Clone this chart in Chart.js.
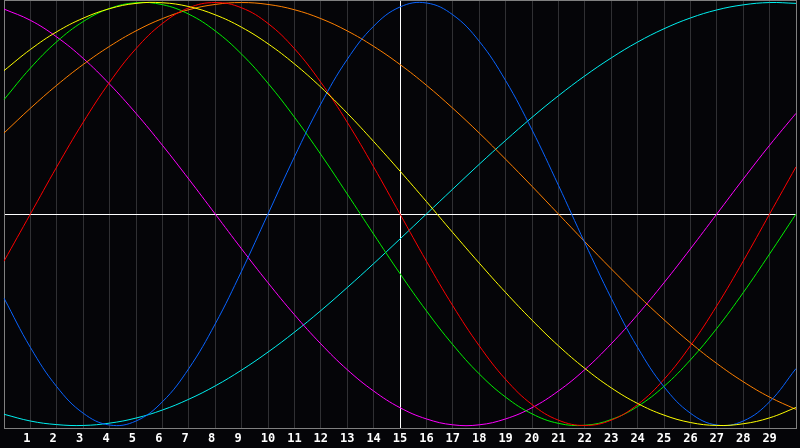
<!DOCTYPE html>
<html>
<head>
<meta charset="utf-8">
<title>Biorhythm</title>
<script src="https://cdn.jsdelivr.net/npm/chart.js@4/dist/chart.umd.min.js"></script>
<style>
  html, body { margin: 0; padding: 0; background: #050508; }
  #chart { display: block; }
</style>
</head>
<body>
<canvas id="chart" width="800" height="448"></canvas>
<script>
// days along the bottom (0 and 30 are the frame edges, no label)
const days = [0, 1, 2, 3, 4, 5, 6, 7, 8, 9, 10, 11, 12, 13, 14, 15, 16, 17, 18, 19, 20, 21, 22, 23, 24, 25, 26, 27, 28, 29, 30];
const todayIndex = 15;

// values, -1 .. 1
const physical     = [-0.398, -0.631, -0.817, -0.942, -0.998, -0.979, -0.888, -0.731, -0.520, -0.270, 0.000, 0.270, 0.520, 0.731, 0.888, 0.979, 0.998, 0.942, 0.817, 0.631, 0.398, 0.136, -0.136, -0.398, -0.631, -0.817, -0.942, -0.998, -0.979, -0.888, -0.731];
const emotional    = [-0.223, 0.000, 0.223, 0.434, 0.623, 0.782, 0.901, 0.975, 1.000, 0.975, 0.901, 0.782, 0.623, 0.434, 0.223, 0.000, -0.223, -0.434, -0.623, -0.782, -0.901, -0.975, -1.000, -0.975, -0.901, -0.782, -0.623, -0.434, -0.223, 0.000, 0.223];
const intellectual = [0.541, 0.690, 0.815, 0.910, 0.972, 0.999, 0.990, 0.945, 0.866, 0.756, 0.618, 0.458, 0.282, 0.095, -0.095, -0.282, -0.458, -0.618, -0.756, -0.866, -0.945, -0.990, -0.999, -0.972, -0.910, -0.815, -0.690, -0.541, -0.372, -0.189, 0.000];
const intuitive    = [0.969, 0.916, 0.837, 0.736, 0.614, 0.476, 0.325, 0.165, 0.000, -0.165, -0.325, -0.476, -0.614, -0.736, -0.837, -0.916, -0.969, -0.997, -0.997, -0.969, -0.916, -0.837, -0.736, -0.614, -0.476, -0.325, -0.165, 0.000, 0.165, 0.325, 0.476];
const aesthetic    = [0.678, 0.778, 0.862, 0.926, 0.971, 0.996, 0.999, 0.981, 0.942, 0.883, 0.805, 0.710, 0.600, 0.477, 0.343, 0.203, 0.059, -0.088, -0.232, -0.371, -0.502, -0.623, -0.730, -0.822, -0.896, -0.951, -0.986, -1.000, -0.992, -0.964, -0.915];
const awareness    = [0.383, 0.500, 0.609, 0.707, 0.793, 0.866, 0.924, 0.966, 0.991, 1.000, 0.991, 0.966, 0.924, 0.866, 0.793, 0.707, 0.609, 0.500, 0.383, 0.259, 0.131, 0.000, -0.131, -0.259, -0.383, -0.500, -0.609, -0.707, -0.793, -0.866, -0.924];
const spiritual    = [-0.947, -0.979, -0.996, -1.000, -0.989, -0.965, -0.927, -0.876, -0.813, -0.738, -0.653, -0.559, -0.457, -0.348, -0.235, -0.118, 0.000, 0.118, 0.235, 0.348, 0.457, 0.559, 0.653, 0.738, 0.813, 0.876, 0.927, 0.965, 0.989, 1.000, 0.996];

const yLimit = 1.012;
const gridGray = '#303033';
const frameGray = '#808080';

function line(label, data, color) {
    return {
        label: label,
        data: data,
        borderColor: color,
        borderWidth: 1,
        pointRadius: 0,
        tension: 0.4,
        fill: false
    };
}

const ctx = document.getElementById('chart').getContext('2d');
new Chart(ctx, {
    type: 'line',
    data: {
        labels: days,
        datasets: [
            line('Aesthetic', aesthetic, '#ffff00'),
            line('Physical', physical, '#0a64ff'),
            line('Emotional', emotional, '#ff0000'),
            line('Intellectual', intellectual, '#00f000'),
            line('Awareness', awareness, '#ff8000'),
            line('Intuitive', intuitive, '#ff00ff'),
            line('Spiritual', spiritual, '#00f0f0')
        ]
    },
    options: {
        responsive: false,
        animation: false,
        devicePixelRatio: 1,
        layout: { padding: { left: 0, right: 1, top: 0, bottom: 0 } },
        plugins: {
            legend: { display: false },
            tooltip: { enabled: false }
        },
        scales: {
            x: {
                offset: false,
                grid: {
                    drawTicks: false,
                    lineWidth: 1,
                    color: (c) => {
                        if (c.index === todayIndex) return '#ffffff';
                        if (c.index === 0 || c.index === days.length - 1) return frameGray;
                        return gridGray;
                    }
                },
                border: { color: frameGray, width: 1 },
                ticks: {
                    autoSkip: false,
                    maxRotation: 0,
                    padding: 4,
                    color: '#ffffff',
                    font: { family: 'DejaVu Sans Mono', size: 12, weight: 'bold' },
                    callback: function (value, index) {
                        const d = days[index];
                        if (d === 0 || d === 30) return '';
                        // single digits sit left of the grid line, like two-char labels
                        return d < 10 ? d + '\u00a0' : String(d);
                    }
                },
                afterFit: (scale) => { scale.height = 20; }
            },
            y: {
                min: -yLimit,
                max: yLimit,
                grid: {
                    drawTicks: false,
                    color: (c) => (c.tick.value === 0 ? '#ffffff' : frameGray)
                },
                border: { color: frameGray, width: 1 },
                ticks: { display: false },
                afterBuildTicks: (scale) => {
                    scale.ticks = [{ value: -yLimit }, { value: 0 }, { value: yLimit }];
                }
            }
        }
    }
});
</script>
</body>
</html>
